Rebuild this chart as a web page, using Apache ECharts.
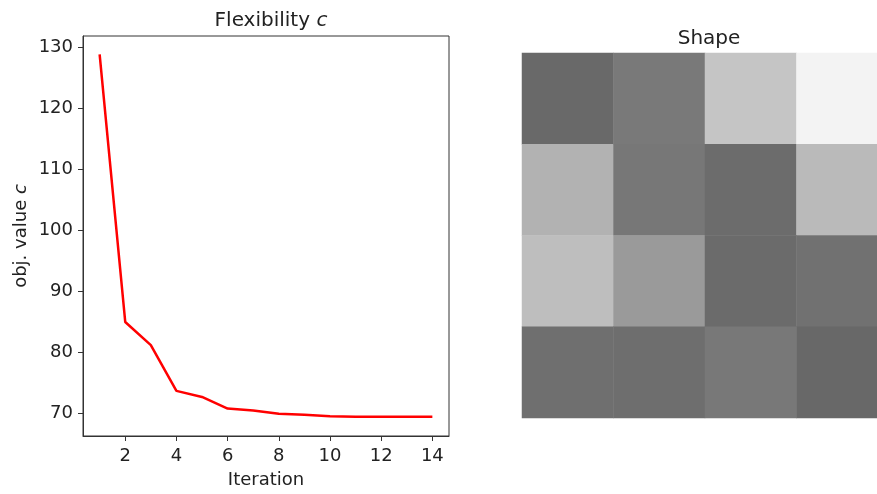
<!DOCTYPE html>
<html>
<head>
<meta charset="utf-8">
<script src="https://cdn.jsdelivr.net/npm/echarts@6/dist/echarts.min.js"></script>
<style>
  html, body { margin: 0; padding: 0; background: #fff; overflow: hidden; }
  /* the right-hand image runs past the window edge, as in the original figure */
  #chart { width: 890px; height: 494px; }
</style>
</head>
<body>
<div id="chart"></div>
<script>
// Flexibility (objective value) per iteration
const iterations = [1, 2, 3, 4, 5, 6, 7, 8, 9, 10, 11, 12, 13, 14];
const objValues = [128.8, 84.9, 81.1, 73.6, 72.6, 70.7, 70.4, 69.85, 69.7, 69.45, 69.35, 69.35, 69.35, 69.35];
const xTicks = [2, 4, 6, 8, 10, 12, 14];
const yTicks = [70, 80, 90, 100, 110, 120, 130];

// Shape: 4x4 grey levels (0 = black, 255 = white), row by row from the top
const shapeCols = ['0', '1', '2', '3'];
const shapeRows = ['0', '1', '2', '3'];
const shapeLevels = [
  [105, 121, 197, 243],
  [178, 119, 108, 186],
  [190, 154, 107, 113],
  [111, 110, 120, 104]
];

const FONT = 'DejaVu Sans';
const AXIS_COLOR = '#333';

const heatData = [];
shapeLevels.forEach((row, r) => {
  row.forEach((v, c) => heatData.push([c, r, v]));
});

const chart = echarts.init(document.getElementById('chart'));

const option = {
  animation: false,
  backgroundColor: '#fff',
  textStyle: { fontFamily: FONT },
  title: [
    {
      text: 'Flexibility {i|c}',
      left: 266,
      textAlign: 'center',
      top: 6,
      textStyle: {
        fontFamily: FONT, fontSize: 20, fontWeight: 'normal', color: '#222',
        rich: { i: { fontFamily: FONT, fontSize: 20, fontStyle: 'italic', color: '#222' } }
      }
    },
    {
      text: 'Shape',
      left: 704,
      textAlign: 'center',
      top: 24,
      textStyle: { fontFamily: FONT, fontSize: 20, fontWeight: 'normal', color: '#222' }
    }
  ],
  grid: [
    { left: 83, top: 36, width: 366, height: 400, show: true, borderColor: AXIS_COLOR, borderWidth: 1, backgroundColor: 'transparent' },
    { left: 522, top: 53, width: 366, height: 365 }
  ],
  xAxis: [
    {
      gridIndex: 0,
      type: 'value',
      min: 0.35,
      max: 14.65,
      name: 'Iteration',
      nameLocation: 'middle',
      nameGap: 35,
      nameTextStyle: { fontFamily: FONT, fontSize: 18, color: '#222' },
      axisLine: { show: true, lineStyle: { color: AXIS_COLOR, width: 1 } },
      axisTick: { show: true, length: 5, lineStyle: { color: AXIS_COLOR }, customValues: xTicks },
      axisLabel: { fontFamily: FONT, fontSize: 18, color: '#222', margin: 11, customValues: xTicks },
      splitLine: { show: false }
    },
    {
      gridIndex: 1,
      type: 'category',
      data: shapeCols,
      show: false
    }
  ],
  yAxis: [
    {
      gridIndex: 0,
      type: 'value',
      min: 66.2,
      max: 131.8,
      name: 'obj. value {i|c}',
      nameLocation: 'middle',
      nameGap: 53,
      nameRotate: 90,
      nameTextStyle: {
        fontFamily: FONT, fontSize: 18, color: '#222',
        rich: { i: { fontFamily: FONT, fontSize: 18, fontStyle: 'italic', color: '#222' } }
      },
      axisLine: { show: true, lineStyle: { color: AXIS_COLOR, width: 1 } },
      axisTick: { show: true, length: 5, lineStyle: { color: AXIS_COLOR }, customValues: yTicks },
      axisLabel: { fontFamily: FONT, fontSize: 18, color: '#222', margin: 10, customValues: yTicks },
      splitLine: { show: false }
    },
    {
      gridIndex: 1,
      type: 'category',
      data: shapeRows,
      inverse: true,
      show: false
    }
  ],
  visualMap: {
    show: false,
    type: 'continuous',
    seriesIndex: 1,
    min: 0,
    max: 255,
    inRange: { color: ['#000000', '#ffffff'] }
  },
  series: [
    {
      type: 'line',
      xAxisIndex: 0,
      yAxisIndex: 0,
      data: iterations.map((x, i) => [x, objValues[i]]),
      showSymbol: false,
      symbol: 'none',
      lineStyle: { color: '#ff0000', width: 2.5 },
      itemStyle: { color: '#ff0000' }
    },
    {
      type: 'heatmap',
      xAxisIndex: 1,
      yAxisIndex: 1,
      data: heatData,
      itemStyle: { borderWidth: 0 }
    }
  ]
};

chart.setOption(option);
</script>
</body>
</html>
